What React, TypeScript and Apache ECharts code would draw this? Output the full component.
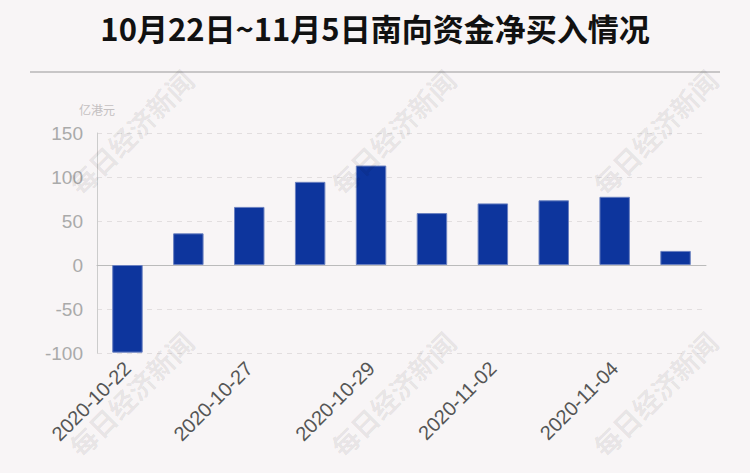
import React, { useEffect, useRef } from "react";
import * as echarts from "echarts";

const titleText = "10月22日~11月5日南向资金净买入情况";
const unitText = "亿港元";
const categories = [
  "2020-10-22",
  "2020-10-23",
  "2020-10-27",
  "2020-10-28",
  "2020-10-29",
  "2020-10-30",
  "2020-11-02",
  "2020-11-03",
  "2020-11-04",
  "2020-11-05",
];
const netBuy = [-99.6, 36, 66, 94.5, 113, 59, 70, 73.5, 77.5, 16];
const yMin = -100;
const yMax = 150;
const yStep = 50;
const watermark = "每日经济新闻";

export default function App() {
  const ref = useRef<HTMLDivElement>(null);
  useEffect(() => {
    if (!ref.current) return;
    const chart = echarts.init(ref.current, undefined, { renderer: "svg" });
    const wmPos = [
      [131, 132],
      [393, 132],
      [655, 132],
      [131, 394],
      [393, 394],
      [655, 394],
    ];
    chart.setOption({
      animation: false,
      backgroundColor: "#f8f5f6",
      title: {
        text: titleText,
        left: "center",
        top: 7,
        textStyle: {
          fontSize: 31,
          fontWeight: "bold",
          color: "#111",
          fontFamily: "Noto Sans CJK SC",
        },
      },
      graphic: [
        {
          type: "line",
          shape: { x1: 30, y1: 72, x2: 720, y2: 72 },
          style: { stroke: "#c8c6c7", lineWidth: 2 },
          z: 10,
        },
        ...wmPos.map(([x, y]) => ({
          type: "text",
          x,
          y,
          rotation: Math.PI / 4,
          z: 100,
          silent: true,
          style: {
            text: watermark,
            align: "center",
            verticalAlign: "middle",
            fontSize: 27,
            fontWeight: "bold",
            fontFamily: "Noto Sans CJK SC",
            fill: "rgba(0,0,0,0.085)",
          },
        })),
      ],
      grid: { left: 97, right: 44, top: 133, bottom: 120 },
      xAxis: {
        type: "category",
        data: categories,
        axisLine: { onZero: true, lineStyle: { color: "#bbb" } },
        axisTick: { show: false },
        axisLabel: {
          rotate: 45,
          interval: 1,
          fontSize: 20,
          color: "#555",
          margin: 12,
          fontFamily: "Liberation Sans",
        },
      },
      yAxis: {
        type: "value",
        min: yMin,
        max: yMax,
        interval: yStep,
        name: unitText,
        nameLocation: "end",
        nameGap: 18,
        nameTextStyle: { fontSize: 12, color: "#c4c0c1", fontFamily: "Noto Sans CJK SC" },
        axisLine: { show: true, lineStyle: { color: "#ccc" } },
        axisTick: { show: false },
        axisLabel: {
          fontSize: 19,
          color: "#aaa",
          margin: 14,
          fontFamily: "Liberation Sans",
        },
        splitLine: { lineStyle: { color: "#e2dedf", type: [5, 5] } },
      },
      series: [
        {
          type: "bar",
          data: netBuy,
          barWidth: "50%",
          itemStyle: {
            color: "#0d359d",
            borderColor: "#6a80c0",
            borderWidth: 1,
          },
        },
      ],
    });
    return () => chart.dispose();
  }, []);
  return (
    <div
      ref={ref}
      style={{ position: "absolute", left: 0, top: 0, width: 750, height: 473 }}
    />
  );
}
